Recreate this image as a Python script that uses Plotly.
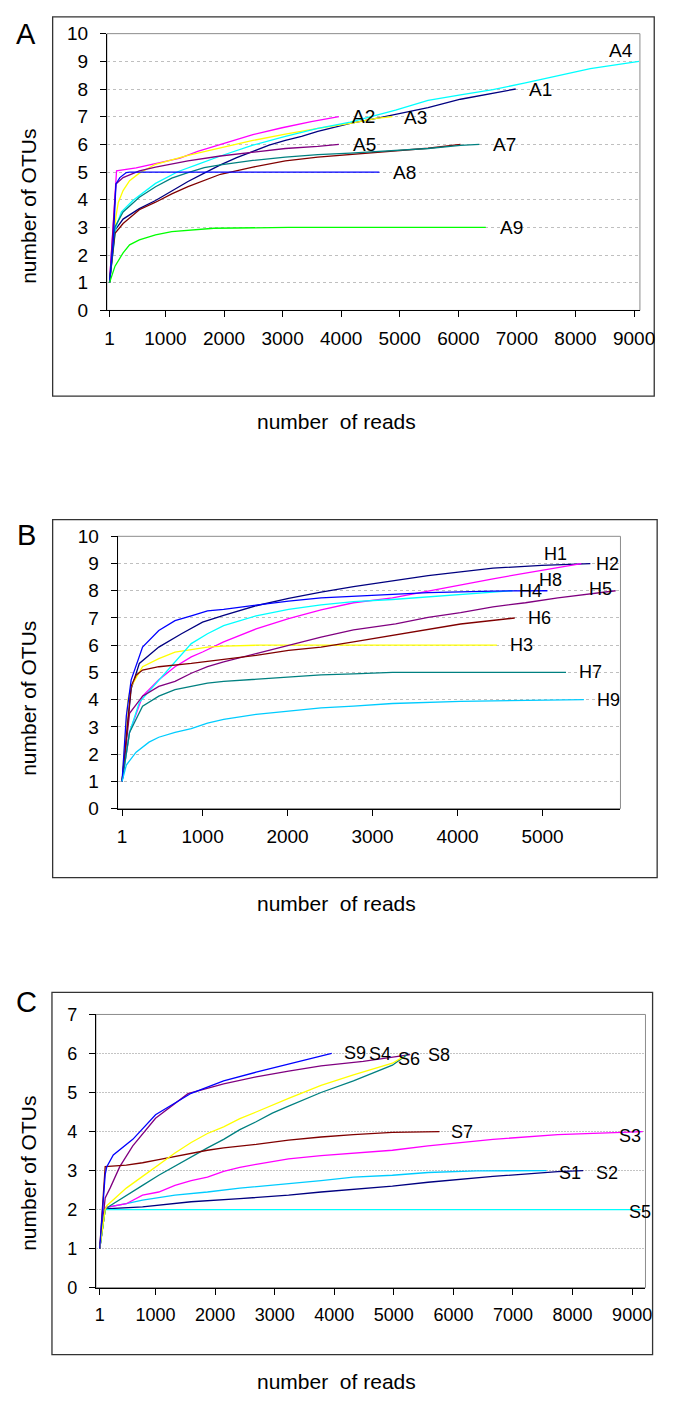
import plotly.graph_objects as go

W, H = 678, 1405

# ---------------- DATA ----------------
# Panel A
A_names = ["A1", "A2", "A3", "A4", "A5", "A6", "A7", "A8", "A9"]
A1_x = [45, 139, 277, 554, 831, 1108, 1385, 1662, 1939, 2216, 2493, 2770, 3047, 3324, 3601, 3878, 4155, 4600, 4929, 5483, 6037, 6591, 6979]
A1_y = [1, 2.9, 3.3, 3.68, 3.97, 4.33, 4.66, 4.96, 5.26, 5.52, 5.75, 5.97, 6.14, 6.29, 6.47, 6.62, 6.76, 6.94, 7.08, 7.33, 7.63, 7.86, 8.0]
A2_x = [45, 140, 165, 500, 831, 1250, 1551, 1994, 2493, 2992, 3490, 3961]
A2_y = [1, 4.5, 5.04, 5.15, 5.3, 5.5, 5.75, 6.03, 6.35, 6.6, 6.82, 7.0]
A3_x = [45, 155, 195, 277, 388, 554, 831, 1385, 1939, 2493, 3047, 3601, 4155, 4600, 4874]
A3_y = [1, 3.4, 3.9, 4.33, 4.69, 4.96, 5.28, 5.6, 5.87, 6.14, 6.37, 6.58, 6.76, 6.94, 7.0]
A4_x = [45, 155, 249, 443, 831, 1219, 1551, 1939, 2493, 3047, 3601, 4155, 4929, 5483, 6037, 6591, 7145, 7699, 8253, 9084]
A4_y = [1, 3.02, 3.56, 3.97, 4.59, 5.02, 5.28, 5.58, 5.97, 6.29, 6.58, 6.8, 7.24, 7.59, 7.79, 7.98, 8.22, 8.48, 8.74, 9.0]
A5_x = [45, 155, 277, 554, 831, 1385, 1939, 2493, 3047, 3601, 3961]
A5_y = [1, 4.57, 4.8, 5.04, 5.18, 5.4, 5.58, 5.72, 5.85, 5.93, 6.0]
A6_x = [45, 139, 277, 554, 831, 1108, 1385, 1939, 2493, 3047, 3601, 4155, 4709, 5483, 6037]
A6_y = [1, 2.79, 3.14, 3.64, 3.91, 4.21, 4.47, 4.92, 5.18, 5.4, 5.54, 5.63, 5.73, 5.86, 6.0]
A7_x = [45, 139, 277, 554, 831, 1108, 1385, 1662, 1939, 2493, 3047, 3601, 4155, 4709, 5483, 6037, 6358]
A7_y = [1, 3.02, 3.56, 4.09, 4.47, 4.78, 4.98, 5.16, 5.26, 5.42, 5.54, 5.63, 5.68, 5.75, 5.85, 5.96, 6.0]
A8_x = [45, 111, 155, 222, 332, 388, 4652]
A8_y = [1, 2.55, 4.57, 4.8, 4.98, 5.0, 5.0]
A9_x = [45, 139, 277, 388, 554, 831, 1108, 1385, 1662, 1828, 3100, 6469]
A9_y = [1, 1.6, 2.08, 2.37, 2.55, 2.73, 2.85, 2.9, 2.95, 2.97, 3.0, 3.0]
A_x = [A1_x, A2_x, A3_x, A4_x, A5_x, A6_x, A7_x, A8_x, A9_x]
A_y = [A1_y, A2_y, A3_y, A4_y, A5_y, A6_y, A7_y, A8_y, A9_y]

# Panel B
B_names = ["H1", "H2", "H3", "H4", "H5", "H6", "H7", "H8", "H9"]
H1_x = [53, 160, 256, 485, 752, 1000, 1248, 1630, 2012, 2394, 2776, 3234, 3654, 4417, 4990, 5563]
H1_y = [1, 4.4, 5.33, 5.93, 6.42, 6.85, 7.1, 7.45, 7.72, 7.95, 8.15, 8.35, 8.56, 8.83, 8.93, 9.0]
H2_x = [53, 141, 294, 485, 676, 867, 1000, 1248, 1630, 2012, 2394, 2776, 3234, 3654, 4036, 4417, 4799, 5181, 5456]
H2_y = [1, 2.8, 4.13, 4.73, 5.21, 5.57, 5.75, 6.12, 6.6, 6.98, 7.3, 7.56, 7.74, 7.99, 8.23, 8.44, 8.65, 8.85, 9.0]
H3_x = [53, 122, 160, 294, 485, 676, 867, 1058, 1248, 1630, 2500, 4463]
H3_y = [1, 4.0, 4.49, 5.21, 5.51, 5.75, 5.84, 5.93, 5.97, 6.0, 6.0, 6.0]
H4_x = [53, 141, 256, 485, 676, 867, 1058, 1248, 1630, 2012, 2394, 2776, 3234, 3654, 4200, 4646]
H4_y = [1, 2.8, 3.9, 4.7, 5.4, 6.06, 6.42, 6.72, 7.08, 7.32, 7.48, 7.6, 7.68, 7.78, 7.9, 8.0]
H5_x = [53, 141, 294, 485, 676, 867, 1058, 1248, 1630, 2012, 2394, 2776, 3272, 3654, 4036, 4417, 4799, 5181, 5860]
H5_y = [1, 3.5, 4.13, 4.49, 4.67, 4.97, 5.21, 5.39, 5.69, 6.0, 6.3, 6.56, 6.78, 7.02, 7.2, 7.41, 7.56, 7.74, 8.0]
H6_x = [53, 160, 218, 294, 485, 676, 867, 1248, 1630, 2012, 2394, 2776, 3234, 3654, 4036, 4673]
H6_y = [1, 4.5, 4.9, 5.09, 5.21, 5.27, 5.33, 5.48, 5.63, 5.81, 5.93, 6.12, 6.36, 6.6, 6.78, 7.0]
H7_x = [53, 141, 294, 485, 676, 867, 1058, 1248, 1630, 2012, 2394, 2776, 3234, 5276]
H7_y = [1, 2.8, 3.76, 4.13, 4.37, 4.49, 4.61, 4.67, 4.75, 4.85, 4.91, 4.95, 5.0, 5.0]
H8_x = [53, 103, 160, 294, 485, 676, 867, 1058, 1248, 1630, 2012, 2394, 2776, 3234, 3654, 4417, 5058]
H8_y = [1, 3.4, 4.73, 5.93, 6.54, 6.9, 7.08, 7.26, 7.32, 7.48, 7.62, 7.74, 7.8, 7.86, 7.93, 7.99, 8.0]
H9_x = [53, 103, 218, 370, 485, 676, 867, 1058, 1248, 1630, 2012, 2394, 2776, 3234, 4036, 5181, 5487]
H9_y = [1, 1.6, 2.07, 2.44, 2.62, 2.8, 2.94, 3.14, 3.28, 3.46, 3.58, 3.7, 3.76, 3.86, 3.94, 4.0, 4.0]
B_x = [H1_x, H2_x, H3_x, H4_x, H5_x, H6_x, H7_x, H8_x, H9_x]
B_y = [H1_y, H2_y, H3_y, H4_y, H5_y, H6_y, H7_y, H8_y, H9_y]

# Panel C
C_names = ["S1", "S2", "S3", "S4", "S5", "S6", "S7", "S8", "S9"]
S1_x = [63, 155, 509, 782, 1326, 1871, 2415, 3233, 3778, 4322, 4976, 5574, 6390, 7562]
S1_y = [1, 2.05, 2.15, 2.24, 2.37, 2.45, 2.55, 2.66, 2.74, 2.83, 2.88, 2.95, 2.99, 3.0]
S2_x = [63, 155, 782, 1598, 2415, 3233, 3778, 4322, 4976, 5574, 6663, 7752, 8178]
S2_y = [1, 2.02, 2.07, 2.2, 2.28, 2.37, 2.45, 2.52, 2.6, 2.7, 2.85, 2.97, 3.0]
S3_x = [63, 155, 509, 782, 1054, 1326, 1598, 1871, 2143, 2415, 2688, 3233, 3778, 4322, 4976, 5574, 6663, 7752, 9178]
S3_y = [1, 2.05, 2.15, 2.37, 2.45, 2.62, 2.74, 2.83, 2.98, 3.08, 3.16, 3.3, 3.38, 3.45, 3.52, 3.63, 3.8, 3.92, 4.0]
S4_x = [63, 155, 237, 400, 618, 1000, 1544, 2143, 2688, 3233, 3778, 4485, 5275]
S4_y = [1, 2.3, 2.55, 3.1, 3.63, 4.34, 4.97, 5.22, 5.4, 5.55, 5.68, 5.8, 5.97]
S5_x = [63, 155, 9150]
S5_y = [1, 2.0, 2.0]
S6_x = [63, 155, 237, 509, 782, 1054, 1326, 1598, 1871, 2143, 2415, 2688, 2960, 3233, 3778, 4322, 4976, 5221]
S6_y = [1, 2.0, 2.1, 2.35, 2.62, 2.88, 3.12, 3.36, 3.58, 3.8, 4.05, 4.25, 4.47, 4.65, 5.0, 5.3, 5.7, 5.97]
S7_x = [63, 155, 509, 782, 1054, 1326, 1598, 1871, 2143, 2688, 3233, 3778, 4322, 4976, 5765]
S7_y = [1, 3.1, 3.14, 3.2, 3.28, 3.36, 3.45, 3.52, 3.58, 3.67, 3.78, 3.86, 3.92, 3.98, 4.0]
S8_x = [63, 155, 182, 509, 782, 1054, 1326, 1598, 1871, 2143, 2415, 2688, 2960, 3233, 3778, 4322, 4976, 5166]
S8_y = [1, 2.0, 2.1, 2.55, 2.85, 3.15, 3.45, 3.72, 3.95, 4.12, 4.33, 4.5, 4.68, 4.85, 5.18, 5.45, 5.75, 5.92]
S9_x = [63, 155, 182, 291, 618, 1000, 1598, 2143, 2688, 3233, 3700, 3957]
S9_y = [1, 2.9, 3.1, 3.4, 3.8, 4.43, 4.98, 5.3, 5.52, 5.73, 5.9, 6.0]
C_x = [S1_x, S2_x, S3_x, S4_x, S5_x, S6_x, S7_x, S8_x, S9_x]
C_y = [S1_y, S2_y, S3_y, S4_y, S5_y, S6_y, S7_y, S8_y, S9_y]

x_tick_values_A = [1000, 2000, 3000, 4000, 5000, 6000, 7000, 8000, 9000]
x_tick_values_B = [1000, 2000, 3000, 4000, 5000]
x_tick_values_C = [1000, 2000, 3000, 4000, 5000, 6000, 7000, 8000, 9000]

# ---------------- STYLES ----------------
NAVY, MAG, YEL, CYAN, PURP, DRED, TEAL, BLUE, SKY, GREEN = (
    "#000080", "#FF00FF", "#FFFF00", "#00FFFF", "#800080",
    "#800000", "#008080", "#0000FF", "#00CCFF", "#00FF00")
A_colors = [NAVY, MAG, YEL, CYAN, PURP, DRED, TEAL, BLUE, GREEN]
B_colors = [NAVY, MAG, YEL, CYAN, PURP, DRED, TEAL, BLUE, SKY]
C_colors = [SKY, NAVY, MAG, PURP, CYAN, TEAL, DRED, YEL, BLUE]

# label offsets (pixels) relative to each series' last point; None = no label
A_lab = [(11, 0), (11, 0), (10, -1), (-32, 11), (12, 0), None, (12, 0), (12, 0), (12, 0)]
B_lab = [(-48, 10), (13, 0), (11, 0), (5, 0), (-29, 2), (11, 0), (11, 0), (-10, 11), (11, 0)]
C_lab = [(11, -2), (11, -2), (-26, -4), (-43, 1), (-14, -2), (-11, -4), (10, 0), (22, 2), (10, 0)]

FONT = "Liberation Sans, Arial, sans-serif"

# panel geometry in pixels: plot area (left, right, top, bottom), outer box, x range, y range
panels = [
    dict(names=A_names, xs=A_x, ys=A_y, colors=A_colors, labs=A_lab, ticks=x_tick_values_A,
         plot=(106.7, 654.3, 24, 305), box=(51, 669, 7, 392), xr=[0, 9100], ymax=10,
         letter="A", letter_pos=(24, 24), title_y=418, tick_size=19, lab_size=19,
         grid=("#BFBFBF", "3px,3px")),
    dict(names=B_names, xs=B_x, ys=B_y, colors=B_colors, labs=B_lab, ticks=x_tick_values_B,
         plot=(117.7, 634.3, 534.3, 810.7), box=(51, 672, 517.3, 880.7), xr=[0, 5917], ymax=10,
         letter="B", letter_pos=(24, 533), title_y=907, tick_size=19, lab_size=18,
         grid=("#BFBFBF", "3px,3px")),
    dict(names=C_names, xs=C_x, ys=C_y, colors=C_colors, labs=C_lab, ticks=x_tick_values_C,
         plot=(95.5, 660, 1019.7, 1297), box=(50.3, 667.3, 997.3, 1365), xr=[0, 9224], ymax=7,
         letter="C", letter_pos=(24, 1007), title_y=1392, tick_size=18, lab_size=18,
         grid=("#C4C4C4", "2px,1px")),
]

def px(x):
    return x / W

def py(y):
    return 1 - y / H

fig = go.Figure()
shapes, annotations = [], []

for i, p in enumerate(panels):
    sfx = "" if i == 0 else str(i + 1)
    xa, ya = "x" + sfx, "y" + sfx
    l, r, t, b = p["plot"]
    for name, xs, ys, col, lab in zip(p["names"], p["xs"], p["ys"], p["colors"], p["labs"]):
        fig.add_trace(go.Scatter(x=xs, y=ys, mode="lines", name=name,
                                 line=dict(color=col, width=1.3),
                                 xaxis=xa, yaxis=ya, showlegend=False, hoverinfo="skip"))
        if lab is not None:
            annotations.append(dict(x=xs[-1], y=ys[-1], xref=xa, yref=ya, text=name,
                                    showarrow=False, xanchor="left", yanchor="middle",
                                    xshift=lab[0], yshift=lab[1],
                                    font=dict(family=FONT, size=p["lab_size"], color="#000")))
    first_x = min(xs[0] for xs in p["xs"])
    fig.layout["xaxis" + sfx] = dict(
        domain=[px(l), px(r)], range=p["xr"], anchor=ya,
        tickvals=[first_x] + p["ticks"], ticktext=["1"] + [str(v) for v in p["ticks"]],
        showgrid=False, zeroline=False, showline=True, linecolor="#000", linewidth=1,
        ticks="outside", ticklen=6, tickcolor="#000", tickwidth=1,
        ticklabelstandoff=5,
        tickfont=dict(family=FONT, size=p["tick_size"], color="#000"), fixedrange=True)
    fig.layout["yaxis" + sfx] = dict(
        domain=[py(b), py(t)], range=[0, p["ymax"]], anchor=xa,
        tickvals=list(range(0, p["ymax"] + 1)),
        showgrid=True, gridcolor=p["grid"][0], gridwidth=1, griddash=p["grid"][1],
        zeroline=False, showline=True, linecolor="#000", linewidth=1,
        ticks="outside", ticklen=6, tickcolor="#000", tickwidth=1,
        ticklabelstandoff=8,
        tickfont=dict(family=FONT, size=p["tick_size"], color="#000"), fixedrange=True)
    # plot area border (gray)
    shapes.append(dict(type="rect", xref="paper", yref="paper",
                       x0=px(l), x1=px(r), y0=py(b), y1=py(t),
                       line=dict(color="#8C8C8C", width=1), layer="below"))
    # outer chart box
    bl, br, bt, bb = p["box"]
    shapes.append(dict(type="rect", xref="paper", yref="paper",
                       x0=px(bl), x1=px(br), y0=py(bb), y1=py(bt),
                       line=dict(color="#333", width=1.3), layer="below"))
    # panel letter
    annotations.append(dict(x=px(p["letter_pos"][0]), y=py(p["letter_pos"][1]), xref="paper", yref="paper",
                            text=p["letter"], showarrow=False, xanchor="center", yanchor="middle",
                            font=dict(family=FONT, size=29, color="#000")))
    # y title
    annotations.append(dict(x=px(26), y=py((bt + bb) / 2), xref="paper", yref="paper",
                            text="number of OTUs", textangle=-90, showarrow=False,
                            xanchor="center", yanchor="middle",
                            font=dict(family=FONT, size=21, color="#000")))
    # x title
    annotations.append(dict(x=px(343), y=py(p["title_y"]), xref="paper", yref="paper",
                            text="number  of reads", showarrow=False,
                            xanchor="center", yanchor="middle",
                            font=dict(family=FONT, size=21, color="#000")))

fig.update_layout(width=W, height=H, margin=dict(l=0, r=0, t=0, b=0),
                  paper_bgcolor="white", plot_bgcolor="white",
                  shapes=shapes, annotations=annotations, showlegend=False)

fig.write_html("out.html", config={"displayModeBar": False},
               post_script="document.body.style.margin='0';document.body.style.overflow='hidden';")
